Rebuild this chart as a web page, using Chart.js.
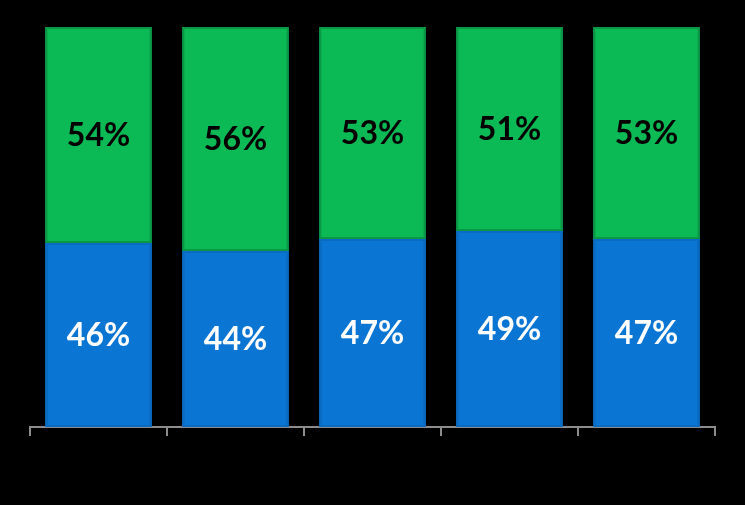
<!DOCTYPE html>
<html>
<head>
<meta charset="utf-8">
<script src="https://cdn.jsdelivr.net/npm/chart.js@4"></script>
<style>
  html, body { margin: 0; padding: 0; background: #000; }
  #wrap { width: 745px; height: 505px; }
</style>
</head>
<body>
<div id="wrap"><canvas id="share-chart"></canvas></div>
<script>
// data
const categories = ['1', '2', '3', '4', '5'];
const bottomShare = [46, 44, 47, 49, 47]; // blue
const topShare = [54, 56, 53, 51, 53];    // green

// draws the percent inside each segment
const segmentLabels = {
    id: 'segmentLabels',
    afterDatasetsDraw(chart) {
        const ctx = chart.ctx;
        ctx.save();
        ctx.font = 'bold 32px Lato';
        ctx.textAlign = 'center';
        ctx.textBaseline = 'middle';
        chart.data.datasets.forEach((ds, i) => {
            const meta = chart.getDatasetMeta(i);
            ctx.fillStyle = ds.labelColor;
            meta.data.forEach((bar, j) => {
                const y = (bar.y + bar.base) / 2;
                ctx.fillText(ds.data[j] + '%', bar.x, y + 1);
            });
        });
        ctx.restore();
    }
};

const ctx = document.getElementById('share-chart').getContext('2d');
const shareChart = new Chart(ctx, {
    type: 'bar',
    data: {
        labels: categories,
        datasets: [{
            data: bottomShare,
            backgroundColor: '#0B75D3',
            borderColor: '#0A6BC2',
            borderWidth: 2,
            borderSkipped: false,
            labelColor: '#ffffff'
        }, {
            data: topShare,
            backgroundColor: '#0CBA55',
            borderColor: '#0A9846',
            borderWidth: 2,
            borderSkipped: false,
            labelColor: '#000000'
        }]
    },
    options: {
        responsive: true,
        maintainAspectRatio: false,
        animation: false,
        layout: { padding: { left: 30, right: 30, top: 27, bottom: 0 } },
        datasets: { bar: { categoryPercentage: 0.78, barPercentage: 1 } },
        scales: {
            x: {
                stacked: true,
                grid: {
                    drawOnChartArea: false,
                    drawTicks: true,
                    tickLength: 9,
                    color: '#8c8c8c',
                    lineWidth: 2
                },
                border: { display: true, color: '#8c8c8c', width: 2 },
                ticks: { display: false },
                afterFit: s => { s.height = 78; }
            },
            y: {
                stacked: true,
                display: false,
                min: 0,
                max: 100
            }
        },
        plugins: {
            legend: { display: false },
            tooltip: { enabled: false }
        }
    },
    plugins: [segmentLabels]
});
</script>
</body>
</html>
